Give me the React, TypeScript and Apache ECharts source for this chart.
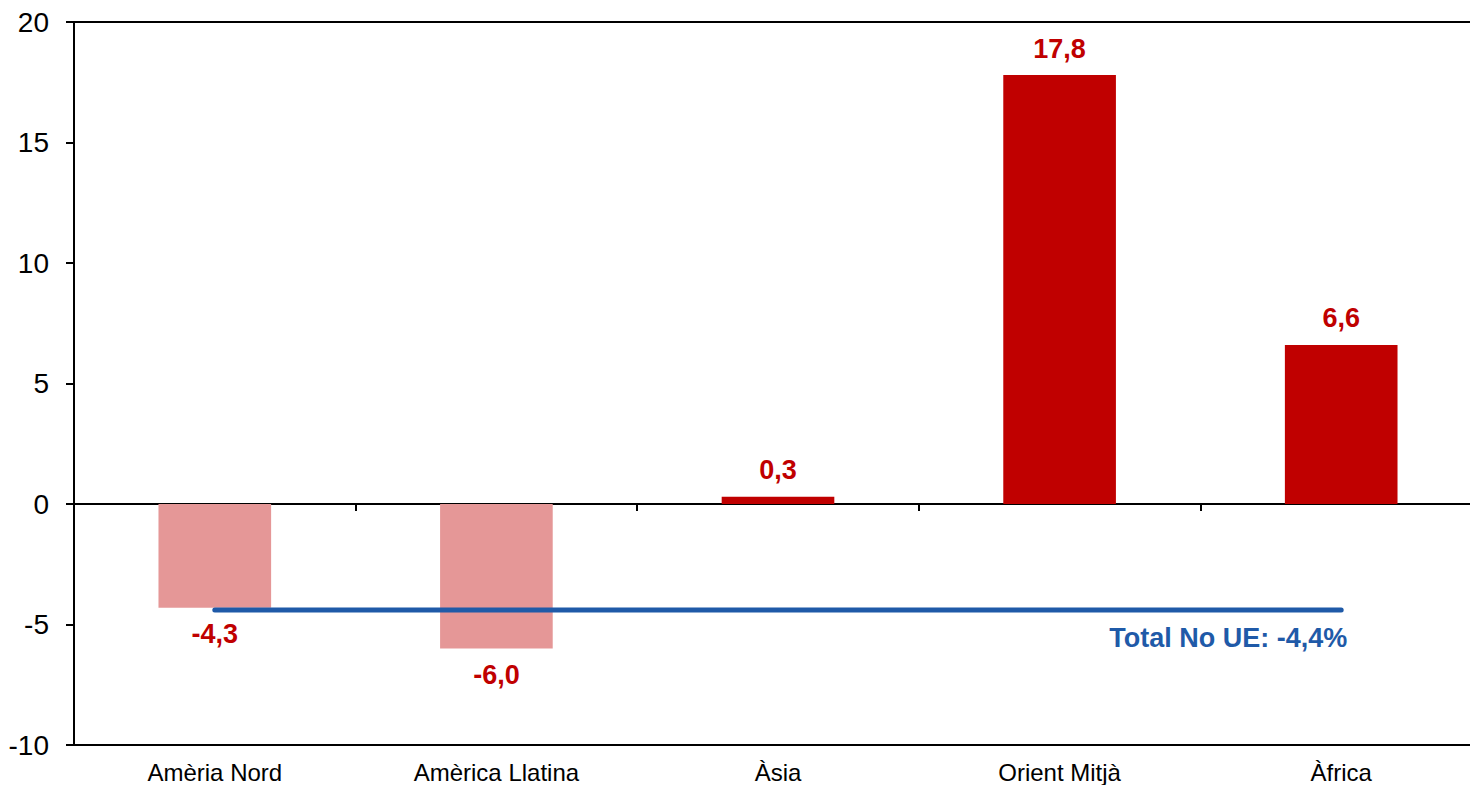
import React, { useEffect, useRef } from "react";
import * as echarts from "echarts";

const categories = ["Amèria Nord", "Amèrica Llatina", "Àsia", "Orient Mitjà", "Àfrica"];
const values = [-4.3, -6.0, 0.3, 17.8, 6.6];
const totalNoUE = -4.4;
const totalLabel = "Total No UE: -4,4%";
const yTicks = { min: -10, max: 20, interval: 5 };

const FONT = "'Liberation Sans', Arial, sans-serif";
const fmt = (v: number) => v.toFixed(1).replace(".", ",");

export default function App() {
  const ref = useRef<HTMLDivElement>(null);
  useEffect(() => {
    if (!ref.current) return;
    const chart = echarts.init(ref.current, undefined, { renderer: "svg" });
    const lineData = categories.map((_, i) =>
      i === categories.length - 1
        ? {
            value: totalNoUE,
            label: {
              show: true,
              formatter: totalLabel,
              position: "bottom",
              align: "right",
              verticalAlign: "top",
              distance: 13,
              offset: [6, 0],
              color: "#1F5AA8",
              fontFamily: FONT,
              fontWeight: "bold",
              fontSize: 27,
            },
          }
        : totalNoUE
    );
    chart.setOption({
      animation: false,
      textStyle: { fontFamily: FONT },
      grid: {
        left: 74,
        right: 18,
        top: 22,
        bottom: 40,
        show: true,
        borderColor: "#000",
        borderWidth: 2,
        containLabel: false,
      },
      xAxis: [
        {
          type: "category",
          data: categories,
          axisLine: { onZero: true, lineStyle: { color: "#000", width: 2 } },
          axisTick: { show: true, length: 7, lineStyle: { color: "#000", width: 2 } },
          axisLabel: { show: false },
        },
        {
          type: "category",
          data: categories,
          position: "bottom",
          axisLine: { show: false, onZero: false },
          axisTick: { show: false },
          axisLabel: { show: true, color: "#000", fontSize: 24, fontFamily: FONT, margin: 15 },
        },
      ],
      yAxis: {
        type: "value",
        min: yTicks.min,
        max: yTicks.max,
        interval: yTicks.interval,
        splitLine: { show: false },
        axisLine: { show: true, lineStyle: { color: "#000", width: 2 } },
        axisTick: { show: true, length: 8, lineStyle: { color: "#000", width: 2 } },
        axisLabel: { color: "#000", fontSize: 28, fontFamily: FONT, margin: 25 },
      },
      series: [
        {
          type: "bar",
          xAxisIndex: 0,
          barWidth: "40%",
          data: values.map((v) => ({
            value: v,
            itemStyle: { color: v < 0 ? "#E59797" : "#C00000" },
            label: { position: v < 0 ? "bottom" : "top" },
          })),
          label: {
            show: true,
            distance: 13,
            color: "#C00000",
            fontWeight: "bold",
            fontSize: 27,
            fontFamily: FONT,
            formatter: (p: any) => fmt(p.value),
          },
        },
        {
          type: "line",
          xAxisIndex: 0,
          data: lineData,
          symbol: "circle",
          symbolSize: 2,
          itemStyle: { color: "#1F5AA8" },
          lineStyle: { color: "#1F5AA8", width: 5, cap: "round" },
          z: 5,
        },
      ],
    });
    return () => chart.dispose();
  }, []);
  return (
    <div style={{ position: "absolute", left: 0, top: 0, width: 1470, height: 785, overflow: "hidden", background: "#fff" }}>
      <div ref={ref} style={{ width: 1500, height: 785 }} />
    </div>
  );
}
